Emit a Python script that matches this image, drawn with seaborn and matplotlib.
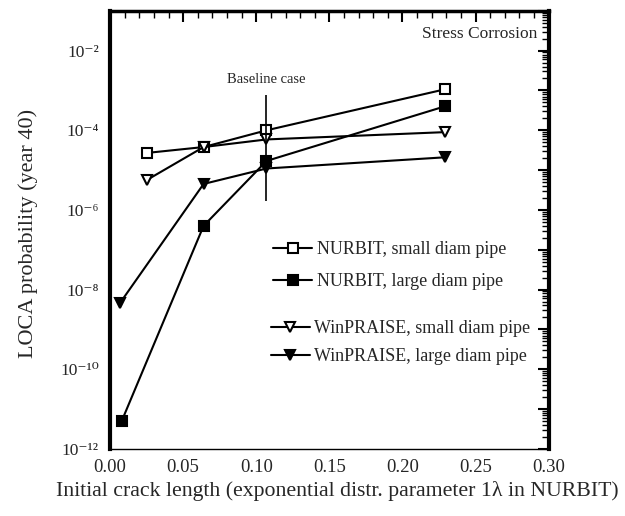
import matplotlib
matplotlib.use("Agg")
import matplotlib.pyplot as plt
import seaborn as sns
import numpy as np
import pandas as pd
from matplotlib.ticker import LogLocator, MultipleLocator, FixedLocator, NullFormatter, FuncFormatter, FormatStrFormatter

sns.set_theme(style="white")
plt.rcParams['font.family'] = ['Liberation Serif', 'DejaVu Serif']

# data
x_nurbit_small = [0.025, 0.064, 0.107, 0.229]
y_nurbit_small = [2.7e-5, 3.8e-5, 1.0e-4, 1.07e-3]
x_nurbit_large = [0.008, 0.064, 0.107, 0.229]
y_nurbit_large = [5e-12, 4e-7, 1.7e-5, 4e-4]
x_win_small = [0.025, 0.064, 0.107, 0.229]
y_win_small = [5.6e-6, 3.8e-5, 5.9e-5, 9e-5]
x_win_large = [0.007, 0.064, 0.107, 0.229]
y_win_large = [4.7e-9, 4.5e-6, 1.1e-5, 2.1e-5]
baseline_x = [0.107]
baseline_lo = [1.7e-6]
baseline_hi = [7.5e-4]

labels = ["NURBIT, small diam pipe", "NURBIT, large diam pipe",
          "WinPRAISE, small diam pipe", "WinPRAISE, large diam pipe"]

fig = plt.figure(figsize=(6.25, 5.16), dpi=100)
ax = fig.add_axes([0.176, 0.130, 0.702, 0.849])

series = [
    (x_nurbit_small, y_nurbit_small, 's', 'white', 7),
    (x_nurbit_large, y_nurbit_large, 's', 'black', 7),
    (x_win_small, y_win_small, 'v', 'white', 7),
    (x_win_large, y_win_large, 'v', 'black', 7.5),
]
handles = []
for (xs, ys, m, fc, ms), lab in zip(series, labels):
    df = pd.DataFrame({"x": xs, "y": ys})
    sns.lineplot(data=df, x="x", y="y", ax=ax, color="black", marker=m,
                 markerfacecolor=fc, markeredgecolor="black", markersize=ms,
                 markeredgewidth=1.5, linewidth=1.5, label=lab, legend=False)
    handles.append(ax.lines[-1])

ax.vlines(baseline_x, baseline_lo, baseline_hi, color="black", linewidth=1.2)

ax.set_yscale("log")
ax.set_xlim(0, 0.30)
ax.set_ylim(1e-12, 1e-1)

ax.xaxis.set_major_locator(MultipleLocator(0.05))
ax.xaxis.set_minor_locator(MultipleLocator(0.01))
ax.xaxis.set_major_formatter(FormatStrFormatter("%.2f"))

sup = str.maketrans("-0123456789", "⁻⁰¹²³⁴⁵⁶⁷⁸⁹")
ax.yaxis.set_major_locator(FixedLocator([10.0**k for k in range(-12, 0)]))
ax.yaxis.set_minor_locator(LogLocator(base=10, subs=np.arange(2, 10), numticks=30))
ax.yaxis.set_minor_formatter(NullFormatter())
def yfmt(v, pos):
    k = int(round(np.log10(v)))
    return ("10" + str(k).translate(sup)) if k % 2 == 0 else ""
ax.yaxis.set_major_formatter(FuncFormatter(yfmt))

ax.tick_params(which="both", direction="in", top=True, right=True, color="black")
ax.tick_params(axis="x", labelsize=13.5, pad=7)
ax.tick_params(axis="y", labelsize=12.5, pad=8)
ax.tick_params(which="major", length=8, width=1.5)
ax.tick_params(which="minor", length=5, width=1.0)

for s in ["left", "right"]:
    ax.spines[s].set_linewidth(3)
ax.spines["top"].set_linewidth(2.5)
ax.spines["bottom"].set_linewidth(1.0)
for s in ax.spines.values():
    s.set_color("black")

ax.set_xlabel("Initial crack length (exponential distr. parameter 1λ in NURBIT)", fontsize=15.7)
ax.xaxis.set_label_coords(0.517, -0.074)
ax.set_ylabel("LOCA probability (year 40)", fontsize=16)
ax.yaxis.set_label_coords(-0.165, 0.493)

ax.text(0.975, 0.966, "Stress Corrosion", transform=ax.transAxes, ha="right", va="top", fontsize=12.5)
ax.text(0.107, 1.3e-3, "Baseline case", ha="center", va="bottom", fontsize=10.5)

leg1 = ax.legend(handles=handles[:2], labels=labels[:2], loc="center left",
                 bbox_to_anchor=(0.371, 0.418), frameon=False, fontsize=13,
                 handlelength=2.2, handletextpad=0.23, labelspacing=0.85,
                 borderaxespad=0, borderpad=0)
ax.add_artist(leg1)
ax.legend(handles=handles[2:], labels=labels[2:], loc="center left",
          bbox_to_anchor=(0.366, 0.242), frameon=False, fontsize=13,
          handlelength=2.2, handletextpad=0.23, labelspacing=0.6,
          borderaxespad=0, borderpad=0)

fig.savefig("out.png", dpi=100)
